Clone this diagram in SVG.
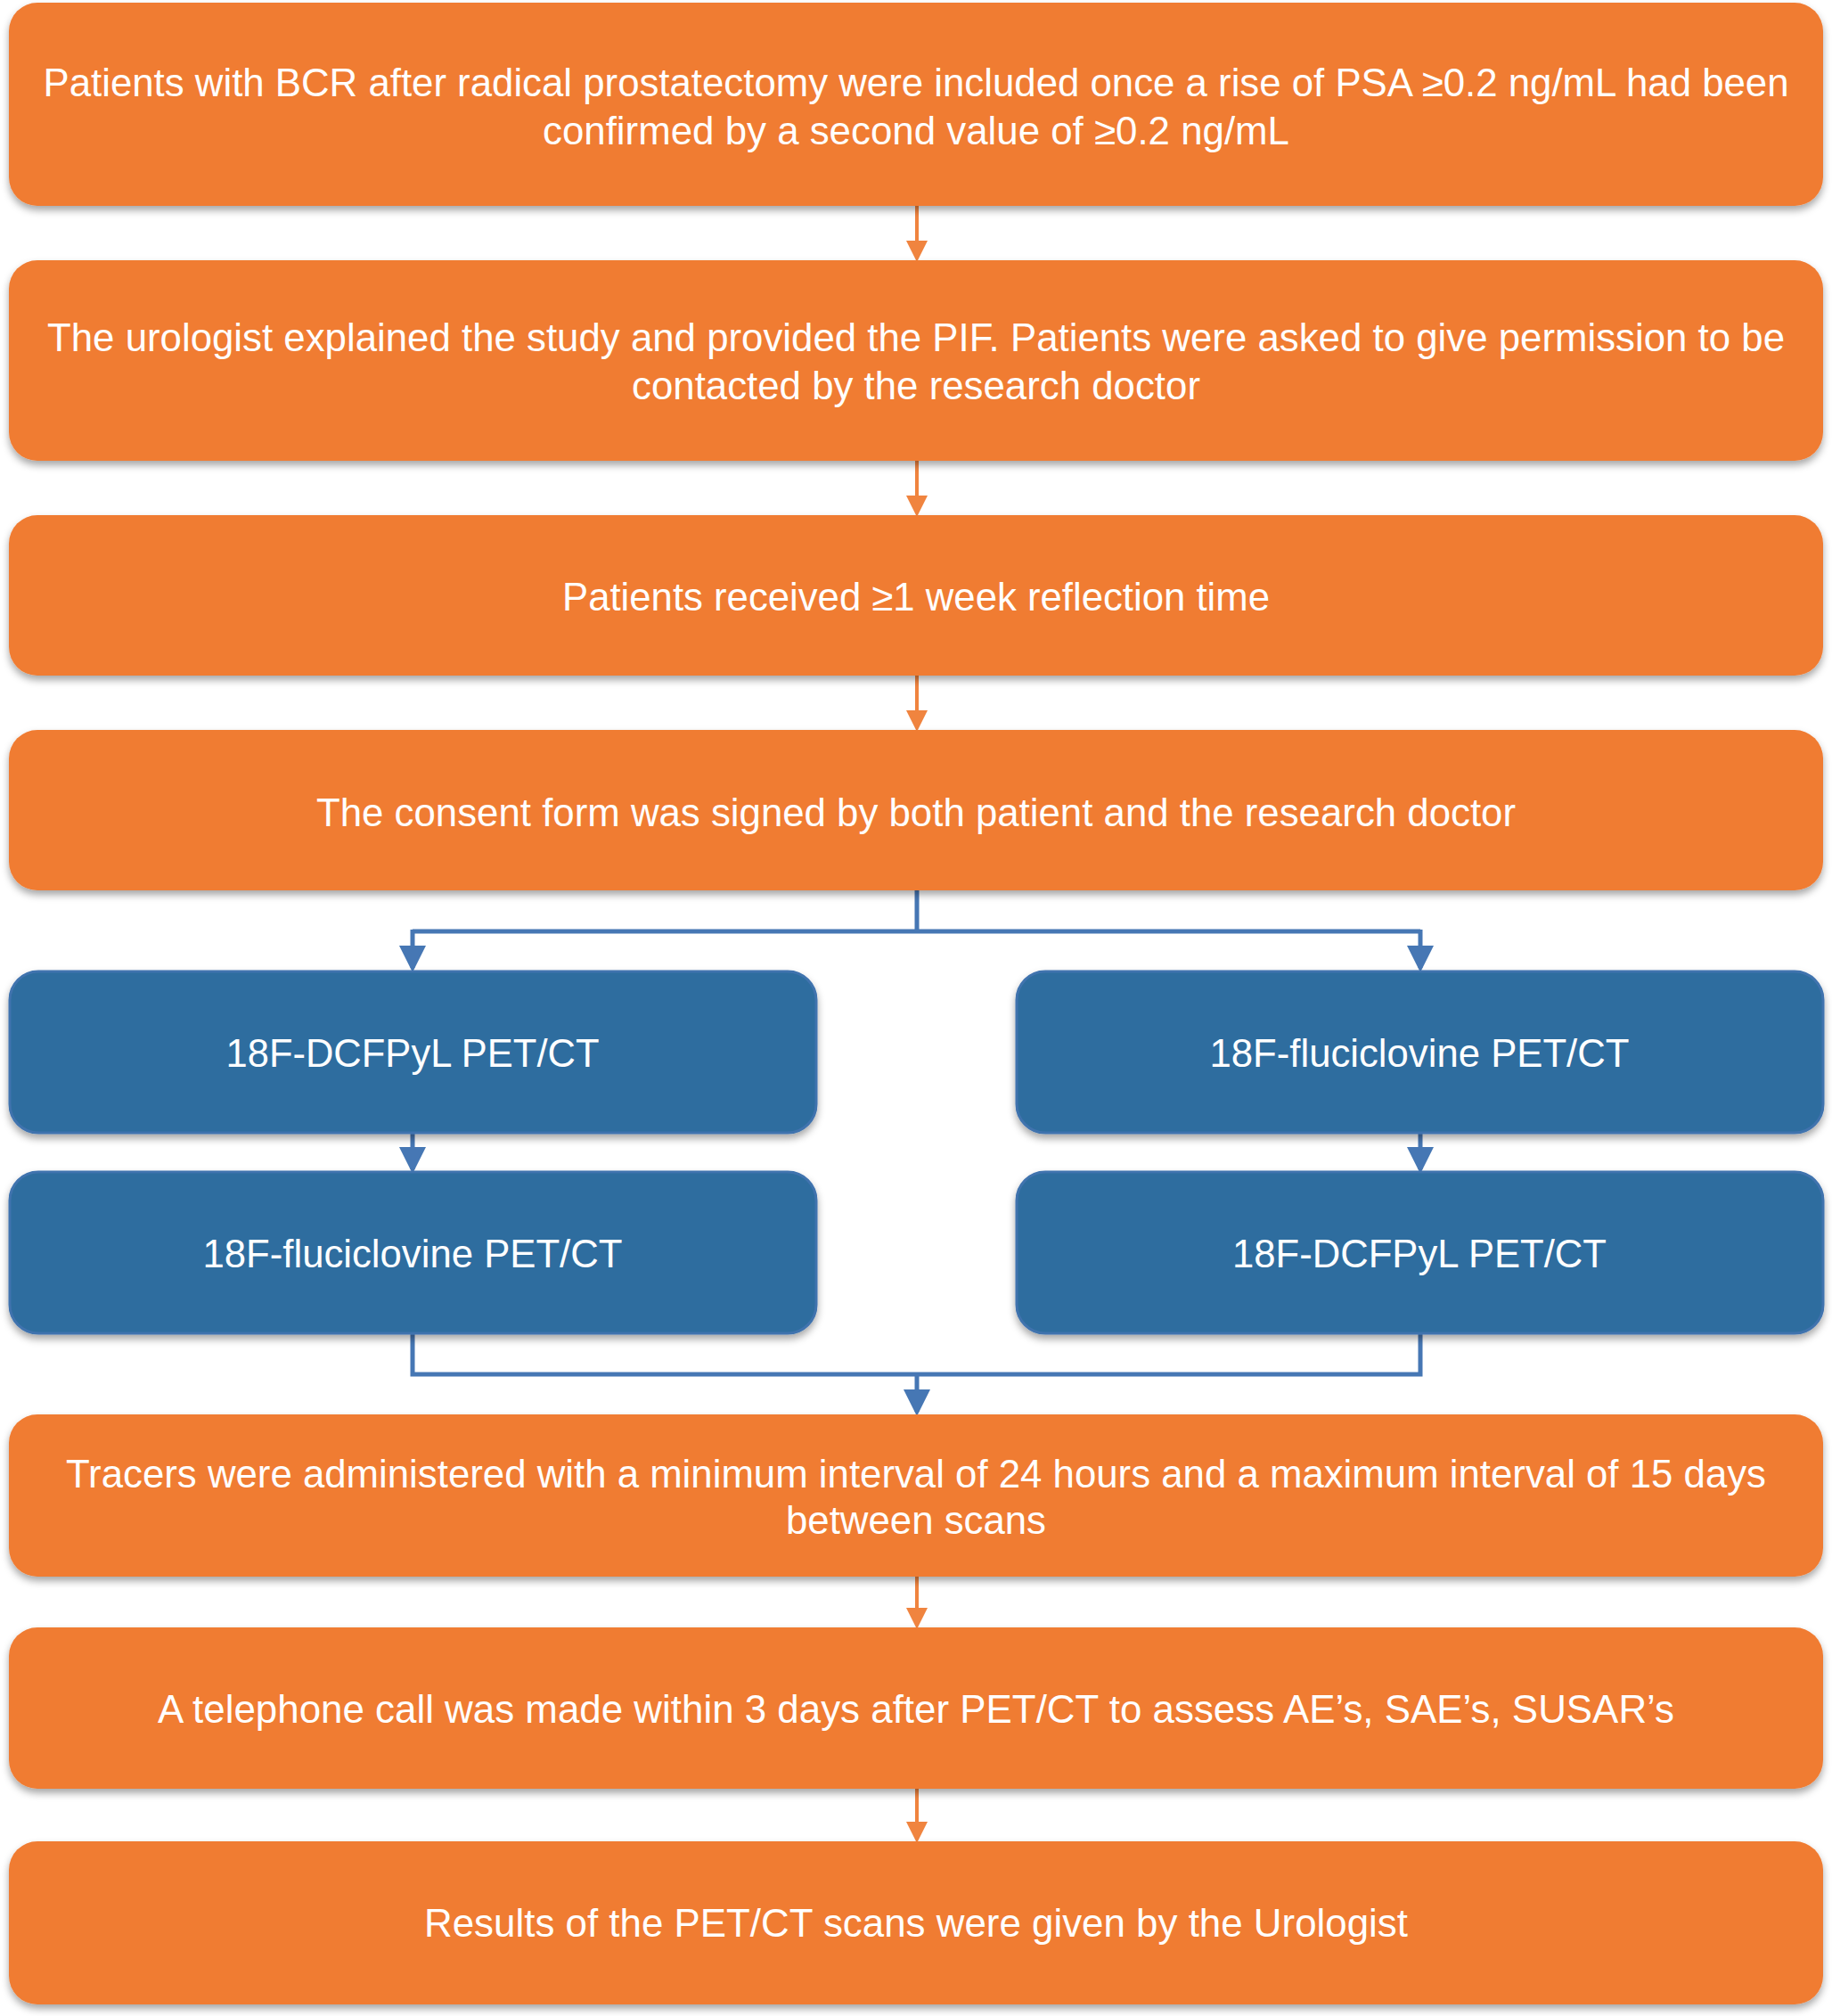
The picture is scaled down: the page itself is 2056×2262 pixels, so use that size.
<svg xmlns="http://www.w3.org/2000/svg" width="2056" height="2262" viewBox="0 0 2056 2262">
<defs>
<filter id="sh" x="-5%" y="-10%" width="110%" height="130%"><feDropShadow dx="0" dy="5" stdDeviation="4" flood-color="#000" flood-opacity="0.35"/></filter>
<marker id="ao" markerWidth="6" markerHeight="6" refX="5" refY="3" orient="auto" markerUnits="strokeWidth"><path d="M0,0 L6,3 L0,6 z" fill="#F0843F"/></marker>
<marker id="ab" markerWidth="6" markerHeight="6" refX="5" refY="3" orient="auto" markerUnits="strokeWidth"><path d="M0,0 L6,3 L0,6 z" fill="#4677B4"/></marker>
</defs>
<style>
.o{fill:#F07C33;filter:url(#sh)}
.b{fill:#2F6D9F;stroke:#3F73AE;stroke-width:3;filter:url(#sh)}
text{font-family:"Liberation Sans",Arial,sans-serif;font-size:44px;fill:#fff;text-anchor:middle;dominant-baseline:central}
.co{stroke:#F0843F;stroke-width:4;fill:none;marker-end:url(#ao)}
.cb{stroke:#4677B4;stroke-width:5;fill:none}
.cba{stroke:#4677B4;stroke-width:5;fill:none;marker-end:url(#ab)}
</style>
<g id="connectors">
<path class="co" d="M1029 231V290"/>
<path class="co" d="M1029 517V576"/>
<path class="co" d="M1029 758V817"/>
<path class="cb" d="M1029 999V1045M463 1045H1594"/>
<path class="cba" d="M463 1043V1086"/>
<path class="cba" d="M1594 1043V1086"/>
<path class="cba" d="M463 1271V1312"/>
<path class="cba" d="M1594 1271V1312"/>
<path class="cb" d="M463 1496V1542H1594V1496"/>
<path class="cba" d="M1029 1542V1584"/>
<path class="co" d="M1029 1769V1824"/>
<path class="co" d="M1029 2007V2064"/>
</g>
<g id="n1"><rect class="o" x="10" y="3" width="2036" height="228" rx="32"/>
<text x="1028" y="92" textLength="1959" lengthAdjust="spacingAndGlyphs">Patients with BCR after radical prostatectomy were included once a rise of PSA ≥0.2 ng/mL had been</text>
<text x="1028" y="146" textLength="838" lengthAdjust="spacingAndGlyphs">confirmed by a second value of ≥0.2 ng/mL</text></g>
<g id="n2"><rect class="o" x="10" y="292" width="2036" height="225" rx="32"/>
<text x="1028" y="378" textLength="1950" lengthAdjust="spacingAndGlyphs">The urologist explained the study and provided the PIF. Patients were asked to give permission to be</text>
<text x="1028" y="432" textLength="638" lengthAdjust="spacingAndGlyphs">contacted by the research doctor</text></g>
<g id="n3"><rect class="o" x="10" y="578" width="2036" height="180" rx="32"/>
<text x="1028" y="669" textLength="794" lengthAdjust="spacingAndGlyphs">Patients received ≥1 week reflection time</text></g>
<g id="n4"><rect class="o" x="10" y="819" width="2036" height="180" rx="32"/>
<text x="1028" y="911" textLength="1346" lengthAdjust="spacingAndGlyphs">The consent form was signed by both patient and the research doctor</text></g>
<g id="n5"><rect class="b" x="11" y="1090" width="905" height="181" rx="32"/>
<text x="463" y="1181" textLength="419" lengthAdjust="spacingAndGlyphs">18F-DCFPyL PET/CT</text></g>
<g id="n6"><rect class="b" x="1141" y="1090" width="905" height="181" rx="32"/>
<text x="1593" y="1181" textLength="471" lengthAdjust="spacingAndGlyphs">18F-fluciclovine PET/CT</text></g>
<g id="n7"><rect class="b" x="11" y="1315" width="905" height="181" rx="32"/>
<text x="463" y="1406" textLength="471" lengthAdjust="spacingAndGlyphs">18F-fluciclovine PET/CT</text></g>
<g id="n8"><rect class="b" x="1141" y="1315" width="905" height="181" rx="32"/>
<text x="1593" y="1406" textLength="420" lengthAdjust="spacingAndGlyphs">18F-DCFPyL PET/CT</text></g>
<g id="n9"><rect class="o" x="10" y="1587" width="2036" height="182" rx="32"/>
<text x="1028" y="1653" textLength="1908" lengthAdjust="spacingAndGlyphs">Tracers were administered with a minimum interval of 24 hours and a maximum interval of 15 days</text>
<text x="1028" y="1705" textLength="292" lengthAdjust="spacingAndGlyphs">between scans</text></g>
<g id="n10"><rect class="o" x="10" y="1826" width="2036" height="181" rx="32"/>
<text x="1028" y="1917" textLength="1702" lengthAdjust="spacingAndGlyphs">A telephone call was made within 3 days after PET/CT to assess AE’s, SAE’s, SUSAR’s</text></g>
<g id="n11"><rect class="o" x="10" y="2066" width="2036" height="183" rx="32"/>
<text x="1028" y="2157" textLength="1104" lengthAdjust="spacingAndGlyphs">Results of the PET/CT scans were given by the Urologist</text></g>
</svg>
